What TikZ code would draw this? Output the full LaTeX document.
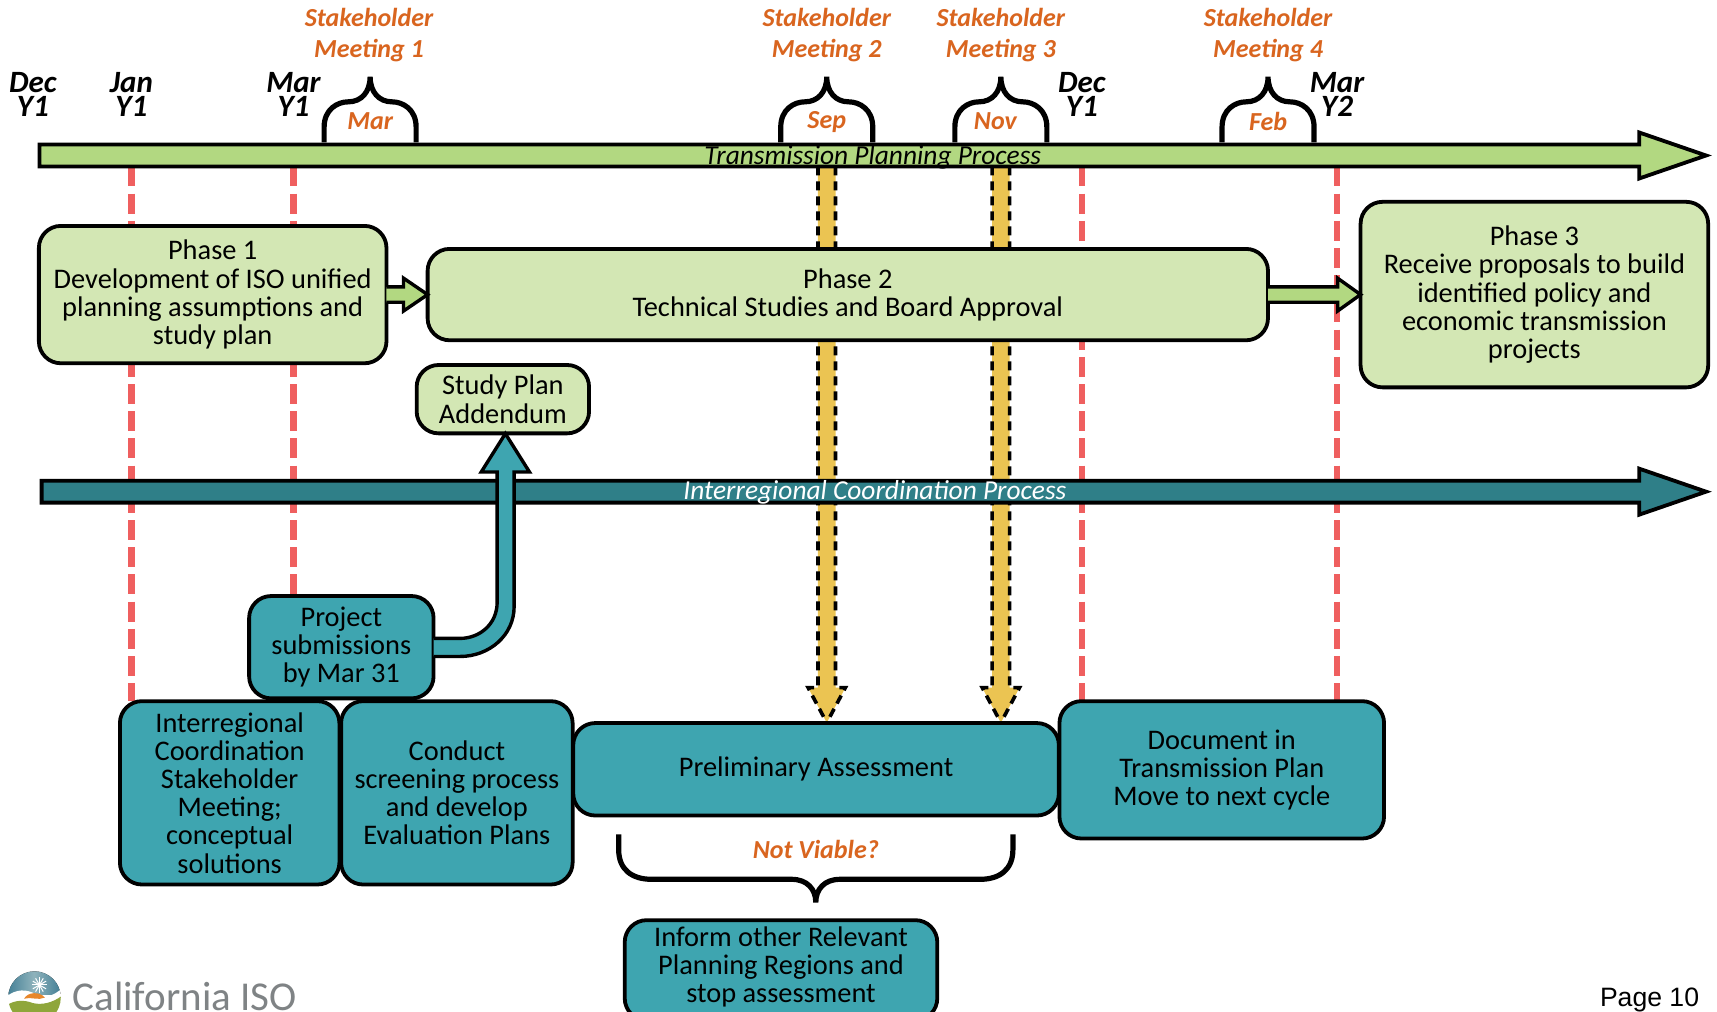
\documentclass[tikz,border=0pt]{standalone}
\usepackage{fontspec}
\setmainfont{Carlito}
\newfontfamily\pagefont{Liberation Sans}
\usetikzlibrary{calc}
\definecolor{barGreen}{HTML}{B2D881}
\definecolor{boxGreen}{HTML}{D3E7B4}
\definecolor{boxTeal}{HTML}{3EA5B0}
\definecolor{barTeal}{HTML}{2F7F88}
\definecolor{redDash}{HTML}{EF5F5F}
\definecolor{yellowArrow}{HTML}{EBC452}
\definecolor{orangeText}{HTML}{D9651F}
\definecolor{logoGray}{HTML}{7F8385}
\definecolor{logoBlueA}{HTML}{8FB3BC}
\definecolor{logoBlueB}{HTML}{3F7C93}
\definecolor{logoGreen}{HTML}{8FA63B}
\definecolor{logoOrange}{HTML}{E8872B}
\tikzset{
  x=0.5475pt,y=-0.5475pt,
  basebox/.style={draw=black,line width=1.9pt,outer sep=0pt,rounded corners=11pt,align=center,text=black,font=\fontsize{14.2}{14.1}\selectfont,inner sep=0pt,anchor=north west},
  greenbox/.style={basebox,fill=boxGreen},
  tealbox/.style={basebox,fill=boxTeal},
  blockline/.style={draw=black,line width=1.7pt,miter limit=8},
  redline/.style={draw=redDash,line width=3.2pt,dash pattern=on 10pt off 3.6pt},
  yellowoutline/.style={draw=black,line width=1.8pt,dash pattern=on 4.5pt off 3pt},
  bracket/.style={draw=black,line width=2.6pt,line cap=butt},
  meet/.style={text=orangeText,font=\bfseries\itshape\fontsize{13}{15.4}\selectfont,align=center,inner sep=0pt},
  yearlab/.style={text=black,font=\bfseries\itshape\fontsize{15.5}{12}\selectfont,align=center,inner sep=0pt},
  barlab/.style={font=\itshape\fontsize{13.7}{14}\selectfont,inner sep=0pt},
}
\newcommand{\boxat}[7]{% style,name,x1,y1,x2,y2,text
  \node[#1,minimum width=#5*0.5475pt-#3*0.5475pt-0.3pt,minimum height=#6*0.5475pt-#4*0.5475pt-0.3pt] (#2) at ($(#3,#4)+(0.5,0.3)$) {#7};}
\newcommand{\meetbrace}[1]{% centred on coordinate #1 (tip)
  \draw[bracket] ($(#1)+(-42,60)$) -- ($(#1)+(-42,46)$) .. controls ($(#1)+(-42,30)$) and ($(#1)+(-30,23)$) .. ($(#1)+(-20,23)$) .. controls ($(#1)+(-8,23)$) and ($(#1)+(0,14)$) .. (#1) .. controls ($(#1)+(0,14)$) and ($(#1)+(8,23)$) .. ($(#1)+(20,23)$) .. controls ($(#1)+(30,23)$) and ($(#1)+(42,30)$) .. ($(#1)+(42,46)$) -- ($(#1)+(42,60)$);}
\newcommand{\yellowarrow}[2]{% from coordinate #1 to coordinate #2
  \fill[yellowArrow] ($(#1)+(-8,0)$) -- ($(#2)+(-8,-32)$) -- ($(#2)+(-17,-32)$) -- (#2) -- ($(#2)+(17,-32)$) -- ($(#2)+(8,-32)$) -- ($(#1)+(8,0)$) -- cycle;
  \draw[yellowoutline] ($(#1)+(-8,0)$) -- ($(#2)+(-8,-32)$) -- ($(#2)+(-17,-32)$) -- (#2);
  \draw[yellowoutline] ($(#1)+(8,0)$) -- ($(#2)+(8,-32)$) -- ($(#2)+(17,-32)$) -- (#2);}
\newcommand{\hblock}[3]{% from node anchor #1 to node anchor #2, head length #3
  \draw[blockline,fill=barGreen] ($(#1)+(0,-7)$) -- ($(#2)+(-#3,-7)$) -- ($(#2)+(-#3,-15)$) -- (#2) -- ($(#2)+(-#3,15)$) -- ($(#2)+(-#3,7)$) -- ($(#1)+(0,7)$);}
\newcommand{\bararrow}[3]{% fill, left coordinate at mid height, tip coordinate
  \draw[blockline,line width=1.9pt,fill=#1] ($(#2)+(0,-10)$) -- ($(#3)+(-61,-10)$) -- ($(#3)+(-61,-21)$) -- (#3) -- ($(#3)+(-61,21)$) -- ($(#3)+(-61,10)$) -- ($(#2)+(0,10)$) -- cycle;}
\begin{document}
\begin{tikzpicture}
\path[use as bounding box,clip] (0,0) rectangle (1568,924);
\fill[white] (0,0) rectangle (1568,924);

% anchors
\coordinate (tpL) at (36,142);
\coordinate (tpT) at (1558,142);
\coordinate (icL) at (38,449);
\coordinate (icT) at (1558,449);
\coordinate (ja) at (120,152);
\coordinate (mr) at (268,152);
\coordinate (de) at (988,152);
\coordinate (m2) at (1221,152);
\coordinate (jb) at (120,640);
\coordinate (mb) at (268,560);
\coordinate (db) at (988,640);
\coordinate (m2b) at (1221,640);
\coordinate (ya) at (755,152);
\coordinate (yb) at (914,152);
\coordinate (yat) at (755,660);
\coordinate (ybt) at (914,660);

% dashed month lines
\draw[redline] (ja) -- (jb);
\draw[redline] (mr) -- (mb);
\draw[redline] (de) -- (db);
\draw[redline] (m2) -- (m2b);

% meeting arrows
\yellowarrow{ya}{yat}
\yellowarrow{yb}{ybt}

% process bars
\bararrow{barGreen}{tpL}{tpT}
\bararrow{barTeal}{icL}{icT}
\node[barlab,text=black] (tplab) at (797,144) {Transmission Planning Process};
\node[barlab,text=white] (iclab) at (799,450) {Interregional Coordination Process};

% boxes
\boxat{greenbox}{ph1}{35}{206}{353}{332}{Phase 1\\Development of ISO unified\\planning assumptions and\\study plan}
\boxat{greenbox}{ph2}{390}{227}{1158}{311}{Phase 2\\Technical Studies and Board Approval}
\boxat{greenbox}{ph3}{1242}{184}{1560}{354}{Phase 3\\Receive proposals to build\\identified policy and\\economic transmission\\projects}
\boxat{greenbox}{add}{380}{333}{538}{396}{Study Plan\\Addendum}
\boxat{tealbox}{sub}{227}{544}{396}{638}{Project\\submissions\\by Mar 31}
\boxat{tealbox}{irc}{109}{640}{310}{808}{Interregional\\Coordination\\Stakeholder\\Meeting;\\conceptual\\solutions}
\boxat{tealbox}{scr}{311}{640}{523}{808}{Conduct\\screening process\\and develop\\Evaluation Plans}
\boxat{tealbox}{pre}{523}{660}{967}{745}{Preliminary Assessment}
\boxat{tealbox}{doc}{967}{640}{1264}{766}{Document in\\Transmission Plan\\Move to next cycle}
\boxat{tealbox}{inf}{570}{840}{856}{932}{Inform other Relevant\\Planning Regions and\\stop assessment\\[-12.7pt]\strut}

% phase arrows
\hblock{ph1.east}{ph2.west}{22}
\hblock{ph2.east}{ph3.west}{21}

% elbow arrow
\coordinate (elbS) at (396,591);
\coordinate (elbT) at (461.5,396);
\draw[blockline,fill=boxTeal] ($(elbS)+(0,8.5)$) -- ($(elbS)+(24,8.5)$) .. controls ($(elbS)+(51,8.5)$) and ($(elbT)+(8,184)$) .. ($(elbT)+(8,158)$)
  -- ($(elbT)+(8,35)$) -- ($(elbT)+(22,35)$) -- (elbT) -- ($(elbT)+(-22,35)$) -- ($(elbT)+(-7.5,35)$) -- ($(elbT)+(-7.5,154)$)
  .. controls ($(elbT)+(-7.5,174)$) and ($(elbS)+(42,-8)$) .. ($(elbS)+(24,-8)$) -- ($(elbS)+(0,-8)$);

% meeting brackets
\coordinate (b1) at (338,70);
\coordinate (b2) at (755,70);
\coordinate (b3) at (914,70);
\coordinate (b4) at (1158,70);
\meetbrace{b1}
\meetbrace{b2}
\meetbrace{b3}
\meetbrace{b4}
\node[meet] (m1) at (337,32) {Stakeholder\\Meeting 1};
\node[meet] (m2l) at (755,32) {Stakeholder\\Meeting 2};
\node[meet] (m3) at (914,32) {Stakeholder\\Meeting 3};
\node[meet] (m4) at (1158,32) {Stakeholder\\Meeting 4};
\node[meet] (mo1) at (338,111) {Mar};
\node[meet] (mo2) at (755,111) {Sep};
\node[meet] (mo3) at (909,111) {Nov};
\node[meet] (mo4) at (1158,111) {Feb};

% date labels
\node[yearlab] (d1) at (30,86) {Dec\\Y1};
\node[yearlab] (d2) at (120,86) {Jan\\Y1};
\node[yearlab] (d3) at (268,86) {Mar\\Y1};
\node[yearlab] (d4) at (988,86) {Dec\\Y1};
\node[yearlab] (d5) at (1221,86) {Mar\\Y2};

% not viable brace
\coordinate (nv) at (745,824);
\draw[bracket] ($(nv)+(-180,-62)$) -- ($(nv)+(-180,-48)$) .. controls ($(nv)+(-180,-30)$) and ($(nv)+(-168,-21)$) .. ($(nv)+(-150,-21)$) -- ($(nv)+(-22,-21)$) .. controls ($(nv)+(-8,-21)$) and ($(nv)+(0,-12)$) .. (nv) .. controls ($(nv)+(0,-12)$) and ($(nv)+(8,-21)$) .. ($(nv)+(22,-21)$) -- ($(nv)+(150,-21)$) .. controls ($(nv)+(168,-21)$) and ($(nv)+(180,-30)$) .. ($(nv)+(180,-48)$) -- ($(nv)+(180,-62)$);
\node[meet] (nvl) at (745,776) {Not Viable?};

% logo
\begin{scope}
\clip (31.5,911) circle (24);
\fill[white] (0,880) rectangle (60,930);
\fill[left color=logoBlueB,right color=logoBlueB,middle color=logoBlueA] (5,885) rectangle (57,908);
\foreach \a in {0,30,...,330} \draw[white,line width=0.5pt] (36,899.5) -- ++(\a:7);
\fill[white] (6,910) .. controls (15,903) and (24,903) .. (33,908) .. controls (42,912) and (50,909) .. (57,902) -- (57,916) -- (6,924) -- cycle;
\fill[logoOrange] (22,912) .. controls (25,906) and (36,905) .. (41,911) .. controls (35,914) and (28,910) .. (22,912) -- cycle;
\fill[logoGreen] (6,918) .. controls (14,913) and (22,913) .. (30,916) .. controls (38,918) and (48,916) .. (57,909) -- (57,940) -- (6,940) -- cycle;
\end{scope}
\node[anchor=base west,text=logoGray,font=\fontsize{20.5}{24}\selectfont,inner sep=0pt] (logo) at (66,923) {California ISO};

\node[anchor=base east,text=black,font=\pagefont\fontsize{13.3}{16}\selectfont,inner sep=0pt] (pg) at (1552,919) {Page 10};
\end{tikzpicture}
\end{document}
